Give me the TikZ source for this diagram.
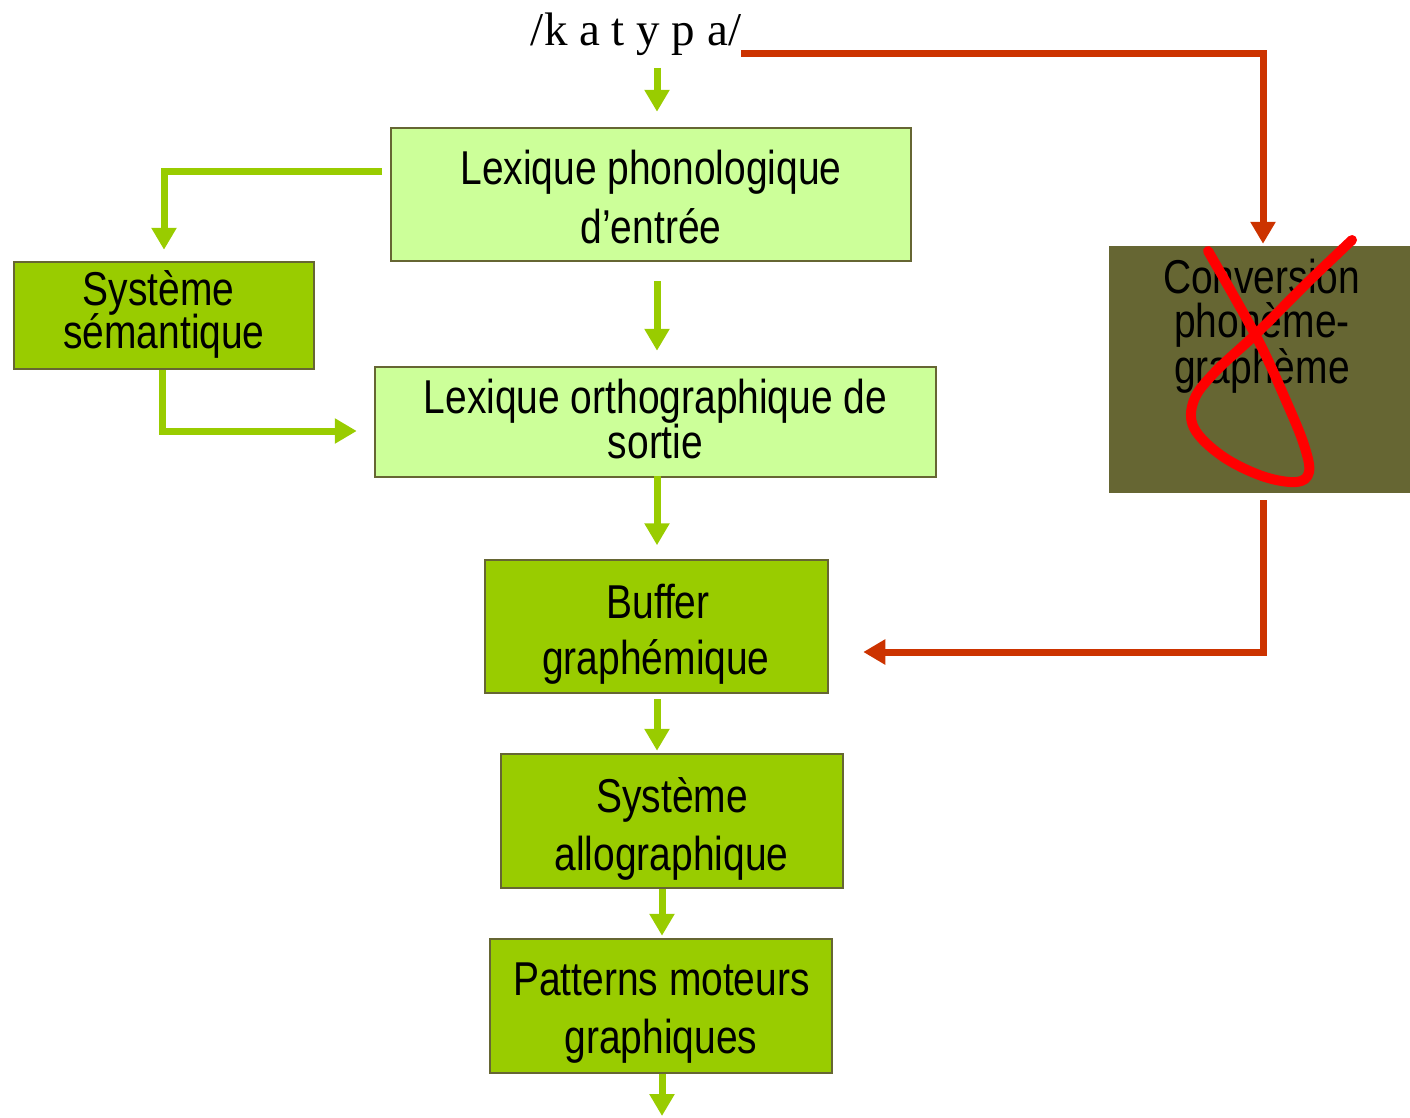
\documentclass[tikz,border=0pt]{standalone}
\usepackage{fontspec}
\setmainfont[FakeStretch=0.82]{Liberation Sans}
\newfontfamily\kfont{Liberation Serif}
\usetikzlibrary{arrows.meta,calc}
\definecolor{lightg}{HTML}{CCFF99}
\definecolor{darkg}{HTML}{99CC00}
\definecolor{olive}{HTML}{666633}
\definecolor{rust}{HTML}{CC3300}
\definecolor{crossred}{HTML}{FF0000}
\begin{document}
\begin{tikzpicture}[x=1pt,y=-1pt,
  lbox/.style={draw=olive,line width=2.5pt,fill=lightg,inner sep=0pt},
  dbox/.style={draw=olive,line width=2.5pt,fill=darkg,inner sep=0pt},
  txt/.style={anchor=base,inner sep=0pt,font=\fontsize{47.5}{57}\selectfont},
  garrow/.style={draw=darkg,line width=7pt,-{Triangle[width=24pt,length=22pt]}},
  rarrow/.style={draw=rust,line width=7pt,line join=miter,-{Triangle[width=24pt,length=22pt]}}]
\useasboundingbox (0,0) rectangle (1410,1117);

% boxes
\node[lbox,minimum width=520pt,minimum height=133pt] (lp) at (651,194.5) {};
\node[dbox,minimum width=300pt,minimum height=107pt] (sem) at (164,315.5) {};
\node[lbox,minimum width=561pt,minimum height=110pt] (lo) at (655.5,422) {};
\node[dbox,minimum width=343pt,minimum height=133pt] (buf) at (656.5,626.5) {};
\node[dbox,minimum width=342pt,minimum height=134pt] (allo) at (672,821) {};
\node[dbox,minimum width=342pt,minimum height=134pt] (pat) at (661,1006) {};
\node[fill=olive,inner sep=0pt,minimum width=301pt,minimum height=247pt] (conv) at (1259.5,369.5) {};

% texts
\node[anchor=base,inner sep=0pt,font=\kfont\fontsize{47}{50}\selectfont] (kt) at (636,45) {/k a t y p a/};
\node[txt] (lp1) at (651,184) {Lexique phonologique};
\node[txt] (lp2) at (651,243) {d’entrée};
\node[txt] (sem1) at (158.5,305) {Système};
\node[txt] (sem2) at (164,348) {sémantique};
\node[txt] (lo1) at (655.5,413) {Lexique orthographique de};
\node[txt] (lo2) at (655.5,458) {sortie};
\node[txt] (buf1) at (658,618) {Buffer};
\node[txt] (buf2) at (656,674) {graphémique};
\node[txt] (allo1) at (672,812) {Système};
\node[txt] (allo2) at (671.5,870) {allographique};
\node[txt] (pat1) at (661.5,995) {Patterns moteurs};
\node[txt] (pat2) at (661,1053) {graphiques};
\node[txt] (conv1) at (1261.5,293) {Conversion};
\node[txt] (conv2) at (1262,337) {phonème-};
\node[txt] (conv3) at (1262,383) {graphème};

% green connectors
\draw[garrow] ($(lp.north)+(6,-59)$) -- ($(lp.north)+(6,-15)$);
\draw[garrow] ($(lp.west)+(-8,-23.5)$) -| ($(sem.north)+(0,-11)$);
\draw[garrow] ($(lp.south)+(6,19)$) -- ($(lo.north)+(1.5,-15)$);
\draw[garrow] ($(sem.south)+(-2,0)$) |- ($(lo.west)+(-17,9)$);
\draw[garrow] ($(lo.south)+(1.5,-2)$) -- ($(buf.north)+(0.5,-13.5)$);
\draw[garrow] ($(buf.south)+(0.5,5)$) -- ($(allo.north)+(-15,-2)$);
\draw[garrow] ($(allo.south)+(-10,0)$) -- ($(pat.north)+(1,-2)$);
\coordinate (out) at (662,1116);
\draw[garrow] ($(pat.south)+(1,0)$) -- (out);

% red connectors
\draw[rarrow] (kt.east |- 0,53) -| ($(conv.north)+(3.5,-2)$);
\draw[rarrow] ($(conv.south)+(3.5,7)$) |- ($(buf.east)+(34,25.5)$);

% crossing-out stroke
\draw[crossred,line width=10pt,line cap=round,line join=round]
  plot[smooth,tension=0.6] coordinates {(1208,251) (1257,338) (1287,403) (1304,445) (1309,472) (1296,482) (1262,476) (1222,456) (1194,428) (1194,400) (1215,372) (1257,333) (1307,283) (1352,240)};
\end{tikzpicture}
\end{document}
